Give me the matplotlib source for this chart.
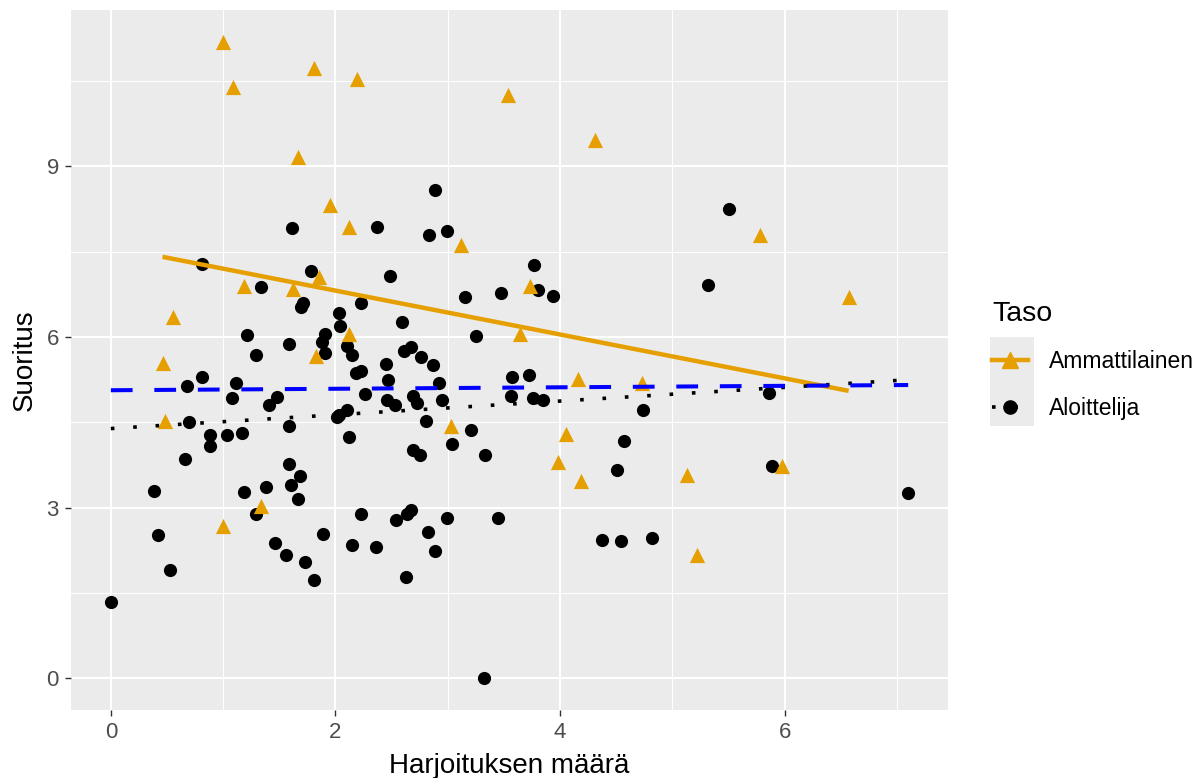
import numpy as np
import matplotlib.pyplot as plt
from matplotlib.lines import Line2D
from matplotlib.patches import Rectangle

plt.rcParams['font.family'] = ['Liberation Sans', 'DejaVu Sans']

# Ammattilainen (kolmiot)
amm_x = [1.00, 1.09, 1.81, 2.19, 1.67, 1.95, 2.12, 1.85, 1.19, 1.62, 0.55,
         2.12, 0.46, 1.83, 0.48, 1.00, 1.34, 3.54, 4.31, 3.12, 3.73, 3.64,
         4.16, 4.73, 3.03, 4.05, 3.98, 4.19, 5.78, 6.57, 5.13, 5.98, 5.22]
amm_y = [11.19, 10.39, 10.74, 10.54, 9.16, 8.33, 7.94, 7.05, 6.89, 6.84, 6.36,
         6.06, 5.55, 5.66, 4.53, 2.67, 3.02, 10.25, 9.46, 7.61, 6.89, 6.05,
         5.27, 5.20, 4.43, 4.29, 3.81, 3.46, 7.79, 6.70, 3.57, 3.73, 2.16]

# Aloittelija (pallot)
alo_x = [0.00, 0.38, 0.42, 0.53, 0.66, 0.68, 0.70, 0.81, 0.81, 0.88, 0.88,
         1.03, 1.08, 1.11, 1.17, 1.21, 1.19, 1.29, 1.34, 1.29, 1.38, 1.41,
         1.48, 1.46, 1.56, 1.61, 1.59, 1.59, 1.59, 1.60, 1.68, 1.67, 1.71,
         1.69, 1.73, 1.78, 1.81, 1.89, 1.88, 1.91, 1.91, 2.03, 2.04, 2.03,
         2.10, 2.10, 2.12, 2.15, 2.15, 2.18, 2.23, 2.23, 2.23, 2.26, 2.37,
         2.36, 2.45, 2.47, 2.46, 2.49, 2.53, 2.54, 2.59, 2.61, 2.64, 2.63,
         2.67, 2.67, 2.69, 2.75, 2.69, 2.76, 2.73, 2.83, 2.81, 2.82, 2.87,
         2.89, 2.89, 2.92, 2.95, 2.99, 2.99, 3.04, 3.15, 3.21, 3.25, 3.33,
         3.32, 3.45, 3.47, 3.57, 3.56, 3.72, 3.77, 3.76, 3.80, 3.85, 3.94,
         4.37, 4.51, 4.57, 4.54, 4.74, 4.82, 5.32, 5.50, 5.86, 5.89, 7.10,
         2.01]
alo_y = [1.34, 3.29, 2.51, 1.91, 3.86, 5.13, 4.50, 5.30, 7.29, 4.27, 4.09,
         4.28, 4.93, 5.20, 4.31, 6.03, 3.27, 5.68, 6.88, 2.89, 3.37, 4.81,
         4.94, 2.38, 2.16, 7.92, 5.88, 4.43, 3.77, 3.40, 3.56, 3.15, 6.60,
         6.53, 2.04, 7.16, 1.73, 2.54, 5.91, 6.06, 5.72, 6.42, 6.20, 4.62,
         4.71, 5.85, 4.24, 5.69, 2.35, 5.37, 5.40, 6.60, 2.89, 4.99, 7.94,
         2.31, 5.53, 5.25, 4.90, 7.07, 4.81, 2.79, 6.27, 5.75, 2.89, 1.78,
         5.83, 2.95, 4.02, 3.92, 4.96, 5.65, 4.84, 7.80, 4.53, 2.57, 5.50,
         2.24, 8.59, 5.20, 4.90, 7.86, 2.82, 4.11, 6.71, 4.37, 6.01, 3.92,
         0.00, 2.82, 6.78, 5.29, 4.97, 5.34, 7.26, 4.93, 6.83, 4.89, 6.72,
         2.43, 3.67, 4.18, 2.41, 4.72, 2.46, 6.92, 8.26, 5.01, 3.73, 3.26,
         4.60]

orange = '#E69F00'

fig = plt.figure(figsize=(11.99, 7.78), dpi=100)
ax = fig.add_axes([0.0592, 0.0874, 0.7315, 0.8996])
ax.set_facecolor('#EBEBEB')

ax.scatter(alo_x, alo_y, s=90, marker='o', color='black', linewidths=0, zorder=3)
ax.scatter(amm_x, amm_y, s=120, marker='^', color=orange, linewidths=0, zorder=3)


def fit_line(x, y):
    x = np.asarray(x)
    b, a = np.polyfit(x, np.asarray(y), 1)
    xs = np.array([x.min(), x.max()])
    return xs, a + b * xs


xs, ys = fit_line(amm_x, amm_y)
ax.plot(xs, ys, color=orange, lw=3.2, solid_capstyle='butt', zorder=4)
xs, ys = fit_line(alo_x, alo_y)
ax.plot(xs, ys, color='black', lw=2.6, linestyle=(0, (1, 5.2)), zorder=4)
xs, ys = fit_line(amm_x + alo_x, amm_y + alo_y)
ax.plot(xs, ys, color='#0000FF', lw=2.9, linestyle=(0, (5.4, 5.4)), zorder=5)

# ggplot-tyyppinen 5 % laajennus
allx = np.array(amm_x + alo_x)
ally = np.array(amm_y + alo_y)
dx = 0.05 * (allx.max() - allx.min())
dy = 0.05 * (ally.max() - ally.min())
ax.set_xlim(allx.min() - dx, allx.max() + dx)
ax.set_ylim(ally.min() - dy, ally.max() + dy)

ax.set_xticks([0, 2, 4, 6])
ax.set_xticks([1, 3, 5, 7], minor=True)
ax.set_yticks([0, 3, 6, 9])
ax.set_yticks([1.5, 4.5, 7.5, 10.5], minor=True)
ax.grid(which='major', color='white', lw=1.5)
ax.grid(which='minor', color='white', lw=0.75)
ax.set_axisbelow(True)
for s in ax.spines.values():
    s.set_visible(False)
ax.tick_params(which='major', length=4.3, width=1, color='#333333',
               labelsize=16, labelcolor='#4D4D4D', pad=4.5)
ax.tick_params(which='minor', length=0)

ax.set_xlabel('Harjoituksen määrä', fontsize=20, labelpad=7)
ax.set_ylabel('Suoritus', fontsize=20, labelpad=6)

# legenda
fig.patches.append(Rectangle((990 / 1199, 1 - 426 / 778), 44 / 1199, 89 / 778,
                             transform=fig.transFigure, facecolor='#EBEBEB',
                             edgecolor='none', zorder=1))
handles = [
    Line2D([], [], color=orange, lw=3.2, marker='^', markersize=11),
    Line2D([], [], color='black', lw=2.6, linestyle=(0, (1, 5.2)),
           marker='o', markersize=9.5),
]
fig.legend(handles, ['Ammattilainen', 'Aloittelija'], title='Taso',
           loc='upper left', bbox_to_anchor=(992 / 1199, 1 - 301 / 778),
           frameon=False, fontsize=16.5, title_fontsize=20.5, borderpad=0,
           borderaxespad=0, handlelength=1.55, handletextpad=0.92,
           labelspacing=1.02, alignment='left')

fig.savefig('out.png', dpi=100)
